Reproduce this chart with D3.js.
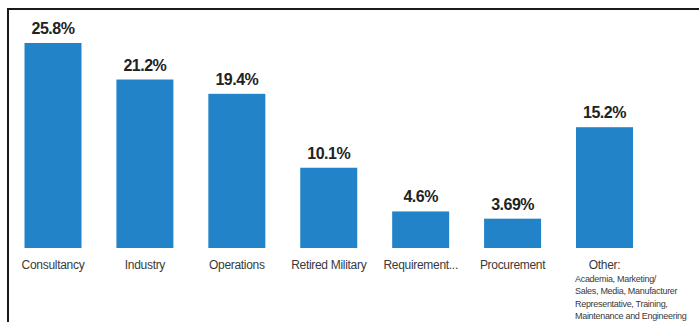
<!DOCTYPE html>
<html>
<head>
<meta charset="utf-8">
<script src="https://cdn.jsdelivr.net/npm/d3@7"></script>
<style>
  html, body { margin: 0; padding: 0; background: #fff; }
  svg { display: block; }
</style>
</head>
<body>
<script>
const categories = ["Consultancy", "Industry", "Operations", "Retired Military", "Requirement...", "Procurement", "Other:"];
const values = [25.8, 21.2, 19.4, 10.1, 4.6, 3.69, 15.2];
const valueLabels = ["25.8%", "21.2%", "19.4%", "10.1%", "4.6%", "3.69%", "15.2%"];
const otherDetail = ["Academia, Marketing/", "Sales, Media, Manufacturer", "Representative, Training,", "Maintenance and Engineering"];

const W = 699, H = 322;
const svg = d3.select("body").append("svg").attr("width", W).attr("height", H);

// frame (top and left border)
svg.append("line").attr("x1", 8).attr("x2", W).attr("y1", 9).attr("y2", 9)
  .attr("stroke", "#1a1a1a").attr("stroke-width", 2);
svg.append("line").attr("x1", 8).attr("x2", 8).attr("y1", 8).attr("y2", H)
  .attr("stroke", "#1a1a1a").attr("stroke-width", 2);

const x = d3.scaleBand().domain(categories).range([24.5, 633]).paddingInner(0.38).paddingOuter(0);
const y = d3.scaleLinear().domain([0, 30]).range([248, 9.6]);

const data = categories.map((c, i) => ({ c, v: values[i], label: valueLabels[i] }));

svg.append("g").selectAll("rect").data(data).join("rect")
  .attr("x", d => x(d.c)).attr("width", x.bandwidth())
  .attr("y", d => y(d.v)).attr("height", d => y(0) - y(d.v))
  .attr("fill", "#2383c8");

svg.append("g").selectAll("text").data(data).join("text")
  .attr("x", d => x(d.c) + x.bandwidth() / 2)
  .attr("y", d => y(d.v) - 9)
  .attr("text-anchor", "middle")
  .attr("font-family", "Liberation Sans, Arial, sans-serif")
  .attr("font-weight", "bold")
  .attr("font-size", 16)
  .attr("letter-spacing", -0.5)
  .attr("fill", "#222")
  .text(d => d.label);

// category axis labels
const xAxis = d3.axisBottom(x).tickSize(0).tickPadding(0);
const gx = svg.append("g").attr("transform", `translate(0,${y(0)})`).call(xAxis);
gx.select(".domain").remove();
gx.selectAll(".tick text")
  .attr("dy", 21)
  .attr("y", 0)
  .attr("font-family", "Liberation Sans, Arial, sans-serif")
  .attr("font-size", 12)
  .attr("letter-spacing", -0.3)
  .attr("fill", "#3a3a3a");

// detail lines under "Other:"
const ox = x("Other:") - 1;
svg.append("g").selectAll("text").data(otherDetail).join("text")
  .attr("x", ox)
  .attr("y", (d, i) => 282 + i * 12.3)
  .attr("font-family", "Liberation Sans, Arial, sans-serif")
  .attr("font-size", 9)
  .attr("letter-spacing", -0.3)
  .attr("fill", "#3a3a3a")
  .text(d => d);
</script>
</body>
</html>
